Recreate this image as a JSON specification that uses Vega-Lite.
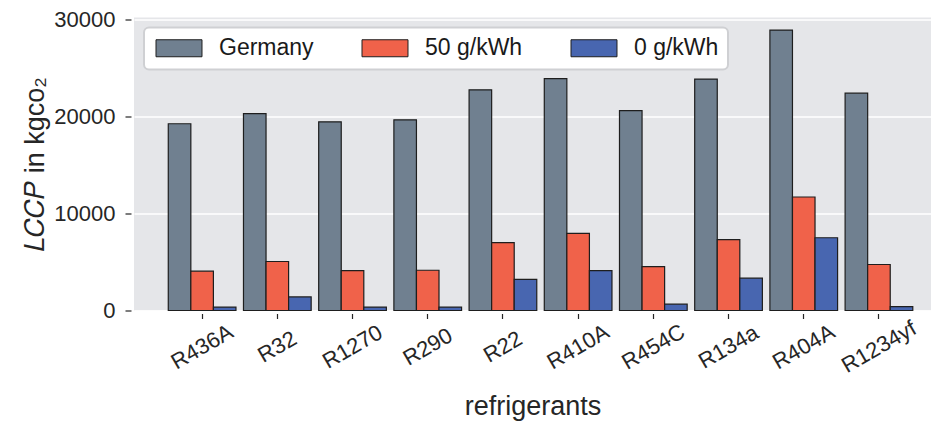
{
  "$schema": "https://vega.github.io/schema/vega-lite/v6.json",
  "autosize": {"type": "none"},
  "padding": {"left": 134, "top": 17.5, "right": 0, "bottom": 112.5},
  "width": 797,
  "height": 293,
  "background": "white",
  "config": {
    "font": "Liberation Sans",
    "view": {"fill": "#e5e6e9", "stroke": null},
    "axis": {"labelColor": "#262626", "titleColor": "#262626", "labelFont": "Liberation Sans", "titleFont": "Liberation Sans", "titleFontWeight": "normal"}
  },
  "data": {
    "values": [
      {"refrigerant": "R436A", "scenario": "Germany", "value": 19250},
      {"refrigerant": "R436A", "scenario": "50 g/kWh", "value": 4050},
      {"refrigerant": "R436A", "scenario": "0 g/kWh", "value": 350},
      {"refrigerant": "R32", "scenario": "Germany", "value": 20300},
      {"refrigerant": "R32", "scenario": "50 g/kWh", "value": 5050},
      {"refrigerant": "R32", "scenario": "0 g/kWh", "value": 1400},
      {"refrigerant": "R1270", "scenario": "Germany", "value": 19450},
      {"refrigerant": "R1270", "scenario": "50 g/kWh", "value": 4100},
      {"refrigerant": "R1270", "scenario": "0 g/kWh", "value": 350},
      {"refrigerant": "R290", "scenario": "Germany", "value": 19650},
      {"refrigerant": "R290", "scenario": "50 g/kWh", "value": 4150},
      {"refrigerant": "R290", "scenario": "0 g/kWh", "value": 350},
      {"refrigerant": "R22", "scenario": "Germany", "value": 22750},
      {"refrigerant": "R22", "scenario": "50 g/kWh", "value": 7000},
      {"refrigerant": "R22", "scenario": "0 g/kWh", "value": 3200},
      {"refrigerant": "R410A", "scenario": "Germany", "value": 23900},
      {"refrigerant": "R410A", "scenario": "50 g/kWh", "value": 7950},
      {"refrigerant": "R410A", "scenario": "0 g/kWh", "value": 4100},
      {"refrigerant": "R454C", "scenario": "Germany", "value": 20600},
      {"refrigerant": "R454C", "scenario": "50 g/kWh", "value": 4530},
      {"refrigerant": "R454C", "scenario": "0 g/kWh", "value": 650},
      {"refrigerant": "R134a", "scenario": "Germany", "value": 23850},
      {"refrigerant": "R134a", "scenario": "50 g/kWh", "value": 7300},
      {"refrigerant": "R134a", "scenario": "0 g/kWh", "value": 3330},
      {"refrigerant": "R404A", "scenario": "Germany", "value": 28900},
      {"refrigerant": "R404A", "scenario": "50 g/kWh", "value": 11700},
      {"refrigerant": "R404A", "scenario": "0 g/kWh", "value": 7500},
      {"refrigerant": "R1234yf", "scenario": "Germany", "value": 22400},
      {"refrigerant": "R1234yf", "scenario": "50 g/kWh", "value": 4740},
      {"refrigerant": "R1234yf", "scenario": "0 g/kWh", "value": 400}
    ]
  },
  "mark": {"type": "bar", "stroke": "#1e1e1e", "strokeWidth": 1.2, "opacity": 1},
  "encoding": {
    "x": {
      "field": "refrigerant", "type": "nominal",
      "sort": ["R436A", "R32", "R1270", "R290", "R22", "R410A", "R454C", "R134a", "R404A", "R1234yf"],
      "scale": {"paddingInner": 0.1, "paddingOuter": 0.349, "align": 0.653},
      "axis": {
        "title": "refrigerants", "titleFontSize": 27, "titlePadding": 17,
        "labelAngle": -30, "labelAlign": "center", "labelBaseline": "middle",
        "labelFontSize": 22, "labelPadding": 28,
        "offset": 3, "tickSize": 5, "tickColor": "#262626", "tickWidth": 1.2,
        "domain": false, "grid": false
      }
    },
    "xOffset": {
      "field": "scenario", "type": "nominal",
      "sort": ["Germany", "50 g/kWh", "0 g/kWh"],
      "scale": {"paddingInner": 0, "paddingOuter": 0}
    },
    "y": {
      "field": "value", "type": "quantitative",
      "scale": {"domain": [0, 30200], "nice": false, "zero": true},
      "axis": {
        "title": "𝐿𝐶𝐶𝑃 in kgᴄᴏ₂", "titleFontSize": 27, "titlePadding": 4,
        "values": [0, 10000, 20000, 30000], "format": "d",
        "labelFontSize": 22, "labelPadding": 10,
        "offset": 3, "tickSize": 6, "tickColor": "#262626", "tickWidth": 1.2,
        "domain": false, "grid": true, "gridColor": "white", "gridWidth": 1.5
      }
    },
    "color": {
      "field": "scenario", "type": "nominal",
      "scale": {"domain": ["Germany", "50 g/kWh", "0 g/kWh"], "range": ["#708090", "#f0624a", "#4866b0"]},
      "legend": {
        "title": null, "orient": "top-left", "offset": 10, "padding": 9,
        "direction": "horizontal", "columns": 3, "columnPadding": 45,
        "fillColor": "white", "strokeColor": "#cfd0d3", "cornerRadius": 5,
        "symbolType": "M-1,-1H4.41V1H-1Z", "symbolSize": 289,
        "symbolStrokeColor": "#1e1e1e", "symbolStrokeWidth": 1, "symbolOpacity": 1,
        "labelFontSize": 23, "labelOffset": 43, "labelColor": "#1a1a1a", "labelFont": "Liberation Sans",
        "encode": {"legend": {"update": {"strokeWidth": {"value": 2}}}}
      }
    }
  }
}
